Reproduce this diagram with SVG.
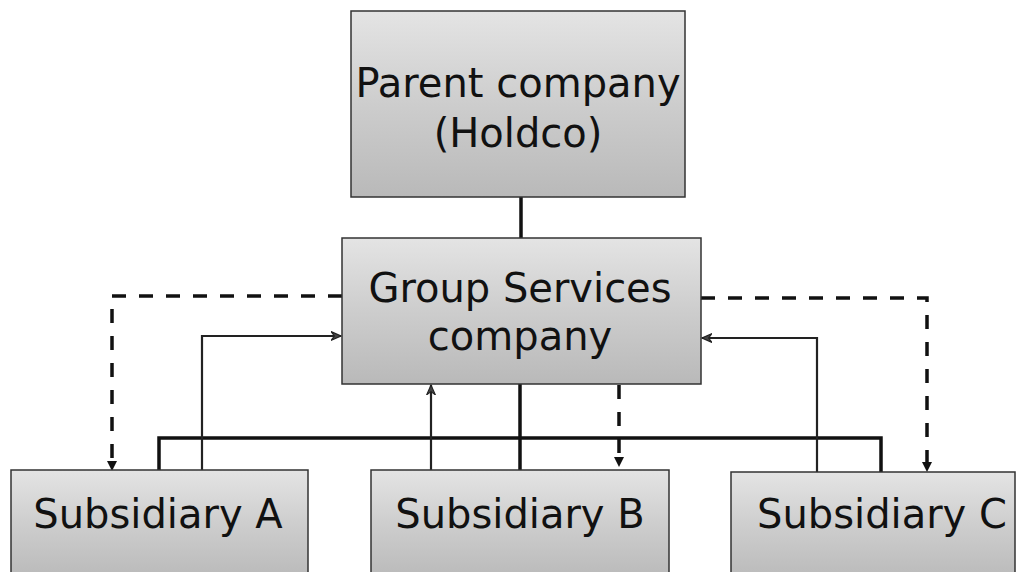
<svg xmlns="http://www.w3.org/2000/svg" width="1019" height="572" viewBox="0 0 1019 572">
  <defs>
    <linearGradient id="boxFill" x1="0" y1="0" x2="0" y2="1">
      <stop offset="0" stop-color="#e4e4e4"/>
      <stop offset="0.5" stop-color="#cdcdcd"/>
      <stop offset="1" stop-color="#b9b9b9"/>
    </linearGradient>
    <marker id="tri" viewBox="0 0 10 10" refX="9" refY="5" markerWidth="10" markerHeight="10" markerUnits="userSpaceOnUse" orient="auto">
      <path d="M0,0 L10,5 L0,10 Z" fill="#111"/>
    </marker>
    <marker id="open" viewBox="0 0 10 10" refX="9" refY="5" markerWidth="11" markerHeight="11" markerUnits="userSpaceOnUse" orient="auto">
      <path d="M0,1 L9,5 L0,9 L3,5 Z" fill="#444" stroke="#222" stroke-width="1"/>
    </marker>
  </defs>
  <style>
    .box { fill: url(#boxFill); stroke: #333; stroke-width: 1.5; }
    .label { font-family: "DejaVu Sans", "Liberation Sans", sans-serif; font-size: 40px; fill: #111; text-anchor: middle; }
    .solid { fill: none; stroke: #111; stroke-width: 3.5; }
    .thin { fill: none; stroke: #222; stroke-width: 2.2; }
    .dash { fill: none; stroke: #111; stroke-width: 3.5; stroke-dasharray: 14 13; }
  </style>
  <rect width="1019" height="572" fill="#fff"/>

  <g id="connectors">
    <!-- holdco to group services -->
    <line class="solid" x1="521" y1="197" x2="521" y2="238"/>
    <!-- group services down to the subsidiary bus -->
    <line class="solid" x1="520" y1="384" x2="520" y2="470"/>
    <polyline class="solid" points="159,470 159,438 881,438 881,472"/>
    <!-- services provided to subsidiaries (dashed) -->
    <polyline class="dash" points="342,296 112,296 112,470" marker-end="url(#tri)"/>
    <polyline class="dash" points="701,298 927,298 927,471" marker-end="url(#tri)"/>
    <line class="dash" x1="619" y1="385" x2="619" y2="466" marker-end="url(#tri)"/>
    <!-- payments from subsidiaries back to group services -->
    <polyline class="thin" points="202,470 202,336 341,336" marker-end="url(#open)"/>
    <polyline class="thin" points="817,472 817,338 702,338" marker-end="url(#open)"/>
    <line class="thin" x1="431" y1="470" x2="431" y2="385" marker-end="url(#open)"/>
  </g>

  <g id="holdco">
    <rect class="box" x="351" y="11" width="334" height="186"/>
    <text class="label" x="518" y="97">Parent company</text>
    <text class="label" x="518" y="147">(Holdco)</text>
  </g>

  <g id="group-services">
    <rect class="box" x="342" y="238" width="359" height="146"/>
    <text class="label" x="520" y="302">Group Services</text>
    <text class="label" x="520" y="350">company</text>
  </g>

  <g id="subsidiary-a">
    <rect class="box" x="11" y="470" width="297" height="110"/>
    <text class="label" x="158" y="528">Subsidiary A</text>
  </g>

  <g id="subsidiary-b">
    <rect class="box" x="371" y="470" width="298" height="110"/>
    <text class="label" x="520" y="528">Subsidiary B</text>
  </g>

  <g id="subsidiary-c">
    <rect class="box" x="731" y="472" width="284" height="110"/>
    <text class="label" x="882" y="528">Subsidiary C</text>
  </g>
</svg>
